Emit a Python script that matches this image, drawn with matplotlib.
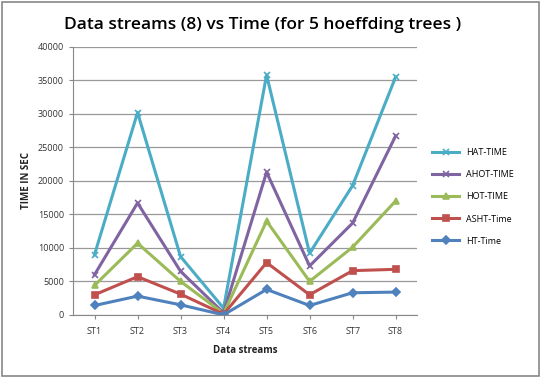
import numpy as np
import matplotlib
matplotlib.use("Agg")
import matplotlib.pyplot as plt
from matplotlib.patches import Rectangle

plt.rcParams['font.family'] = ['Open Sans', 'DejaVu Sans']

# data
streams = ["ST1", "ST2", "ST3", "ST4", "ST5", "ST6", "ST7", "ST8"]
hat_time = [9000, 30200, 8700, 1000, 35800, 9200, 19300, 35500]
ahot_time = [6000, 16700, 6500, 300, 21300, 7300, 13700, 26700]
hot_time = [4400, 10700, 5000, 200, 14000, 5000, 10100, 17000]
asht_time = [3000, 5700, 3100, 100, 7800, 3000, 6600, 6800]
ht_time = [1400, 2800, 1500, 0, 3800, 1400, 3300, 3400]

fig = plt.figure(figsize=(5.41, 3.78), dpi=100)
ax = fig.add_axes([0.135, 0.167, 0.636, 0.709])

x = np.arange(len(streams))
series = [
    ("HAT-TIME", hat_time, "#4BACC6", "x", 5),
    ("AHOT-TIME", ahot_time, "#8064A2", "x", 5),
    ("HOT-TIME", hot_time, "#9BBB59", "^", 5),
    ("ASHT-Time", asht_time, "#C0504D", "s", 5),
    ("HT-Time", ht_time, "#4F81BD", "D", 4),
]
for name, vals, col, mk, ms in series:
    ax.plot(x, vals, color=col, lw=2.2, marker=mk, ms=ms, mew=1.2, label=name)

ax.set_xlim(-0.5, len(streams) - 0.5)
ax.set_ylim(0, 40000)
ax.set_yticks(np.arange(0, 40001, 5000))
ax.set_xticks(x)
ax.set_xticklabels(streams)
ax.tick_params(labelsize=6.5, colors="#333333", length=3, color="#888888")
ax.tick_params(axis="x", pad=6)
ax.grid(axis="y", color="#999999", lw=0.9)
ax.set_axisbelow(True)
for s in ["top", "right"]:
    ax.spines[s].set_visible(False)
for s in ["left", "bottom"]:
    ax.spines[s].set_color("#888888")

ax.set_xlabel("Data streams", fontsize=7, fontweight="bold", color="#222222", labelpad=6)
ax.set_ylabel("TIME IN SEC", fontsize=7, fontweight="bold", color="#222222")
fig.suptitle("Data streams (8) vs Time (for 5 hoeffding trees )", fontsize=12.5,
             fontweight="semibold", x=0.485, y=0.955)

ax.legend(loc="center left", bbox_to_anchor=(1.02, 0.44), frameon=False,
          fontsize=6.5, handlelength=3, labelspacing=1.45)

fig.patches.append(Rectangle((0.004, 0.005), 0.992, 0.99, transform=fig.transFigure,
                             fill=False, edgecolor="#888888", lw=1.2))

fig.savefig("out.png", dpi=100)
